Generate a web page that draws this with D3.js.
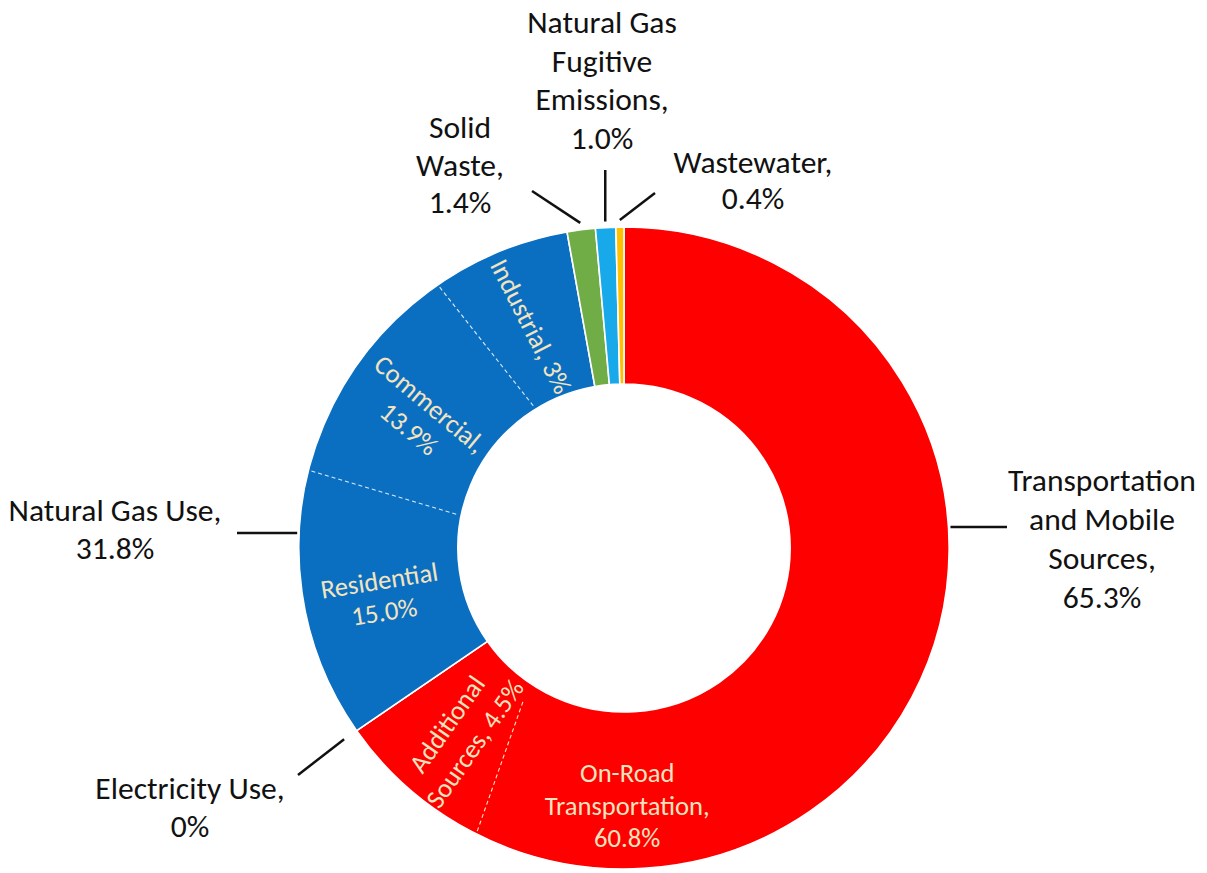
<!DOCTYPE html>
<html><head><meta charset="utf-8">
<script src="https://cdn.jsdelivr.net/npm/d3@7"></script>
<style>html,body{margin:0;padding:0;background:#fff;} svg{display:block}</style>
</head><body><svg id="c" width="1207" height="873"></svg>
<script>
// ---- data ----
const categories = ["Transportation and Mobile Sources","Electricity Use","Natural Gas Use","Solid Waste","Natural Gas Fugitive Emissions","Wastewater"];
const values = [65.3, 0, 31.8, 1.4, 1.0, 0.4];
const colors = ["#ff0000","#ffffff","#0b6fc1","#70ad47","#17a9ea","#ffc000"];
const outerLabels = [
  ["Transportation","and Mobile","Sources,","65.3%"],
  ["Electricity Use,","0%"],
  ["Natural Gas Use,","31.8%"],
  ["Solid","Waste,","1.4%"],
  ["Natural Gas","Fugitive","Emissions,","1.0%"],
  ["Wastewater,","0.4%"]
];
const subCategories = ["On-Road Transportation","Additional Sources","Residential","Commercial","Industrial"];
const subLabels = [["On-Road","Transportation,","60.8%"],["Additional","Sources, 4.5%"],["Residential","15.0%"],["Commercial,","13.9%"],["Industrial, 3%"]];
// sub-segment divider positions (degrees clockwise from top: outer end, inner end)
const dividerAngles = [[207.1, 213.0],[284.0, 281.5],[325.1, 327.8]];

// ---- layout ----
const FONT = "Carlito, Lato, 'Liberation Sans', sans-serif";
const cx = 624, cy = 548, R = 321, r0 = 164, SX = 1.013;
const svg = d3.select("#c");
const g = svg.append("g").attr("transform", `translate(${cx},${cy})`);
const ring = g.append("g").attr("transform", `scale(${SX},1)`);

function fitSize(str, target){
  const t = svg.append("text").attr("font-family", FONT).attr("font-size", 100).text(str);
  const w = t.node().getComputedTextLength(); t.remove();
  return 100 * target / w;
}
const outerFS = fitSize("Natural Gas Use,", 213);
const innerFS = fitSize("Transportation,", 165);

const rad = a => a * Math.PI / 180;
const pt = (deg, r) => [SX * r * Math.sin(rad(deg)), -r * Math.cos(rad(deg))];

const pie = d3.pie().sort(null).value(d => d);
const arcs = pie(values);
const arc = d3.arc().innerRadius(r0).outerRadius(R);

ring.selectAll("path.slice").data(arcs).join("path")
  .attr("class","slice")
  .attr("d", arc)
  .attr("fill", (d,i) => colors[i])
  .attr("stroke", "#fff").attr("stroke-width", 1.6);

// dashed dividers
g.selectAll("line.div").data(dividerAngles).join("line")
  .attr("class","div")
  .each(function(d,i){
    const [x1,y1] = pt(d[0], R - 3);
    const [x2,y2] = pt(d[1], i === 0 ? 183 : r0 + 4);
    d3.select(this).attr("x1",x1).attr("y1",y1).attr("x2",x2).attr("y2",y2);
  })
  .attr("stroke", (d,i) => i === 0 ? "#f6e6c0" : "#dfeaf6")
  .attr("stroke-width", 1.1)
  .attr("stroke-dasharray", "4,3");

// inner labels: [angle, radius, rotation, lineSpacing]
const subPos = [[179.3, 258, 0, 32.5],[220.9, 246, -55, 34],[258.6, 244, -9, 31.5],[303.1, 241, 40, 32.5],[337.5, 240, 63, 32]];
subLabels.forEach((lines, i) => {
  const [a, r, rot, sp] = subPos[i];
  const [x, y] = pt(a, r);
  const t = g.append("text")
    .attr("transform", `translate(${x},${y}) rotate(${rot})`)
    .attr("font-family", FONT).attr("font-size", innerFS)
    .attr("fill", "#f3e4bf").attr("text-anchor","middle");
  const n = lines.length;
  lines.forEach((s, k) => {
    t.append("tspan").attr("x", 0).attr("y", (k - (n-1)/2) * sp).attr("dominant-baseline","central").text(s);
  });
});

// outer labels: [centerX, firstLineCenterY, spacing]
const labelPos = [[1102, 480, 39],[190, 788, 38],[115, 510, 38],[460, 127, 37.5],[602, 22, 38.7],[753, 162, 36]];
outerLabels.forEach((lines, i) => {
  const [x, y0, sp] = labelPos[i];
  const t = svg.append("text").attr("font-family", FONT).attr("font-size", outerFS)
    .attr("fill", "#111").attr("text-anchor","middle");
  lines.forEach((s, k) => {
    t.append("tspan").attr("x", x).attr("y", y0 + k*sp).attr("dominant-baseline","central").text(s);
  });
});

// leader lines
const mid = d => (d.startAngle + d.endAngle) / 2 * 180 / Math.PI;
function ringX(y, side){ const dy = y - cy; return cx + side * SX * Math.sqrt(R*R - dy*dy); }
const leaders = [
  [[ringX(527, 1) + 2, 527], [1007, 527]],
  [[cx + pt(mid(arcs[1]), 336)[0], cy + pt(mid(arcs[1]), 336)[1]], [298, 775]],
  [[ringX(533, -1) - 2, 533], [237, 533]],
  [[cx + pt(mid(arcs[3]), 328)[0], cy + pt(mid(arcs[3]), 328)[1]], [532, 191]],
  [[cx + pt(mid(arcs[4]), 327)[0], cy + pt(mid(arcs[4]), 327)[1]], [cx + pt(mid(arcs[4]), 327)[0], 170]],
  [[cx + pt(mid(arcs[5]), 328)[0], cy + pt(mid(arcs[5]), 328)[1]], [655, 193]]
];
svg.selectAll("line.lead").data(leaders).join("line")
  .attr("class","lead")
  .attr("x1", d => d[0][0]).attr("y1", d => d[0][1])
  .attr("x2", d => d[1][0]).attr("y2", d => d[1][1])
  .attr("stroke", "#111").attr("stroke-width", 2.5);
</script>
</body></html>
